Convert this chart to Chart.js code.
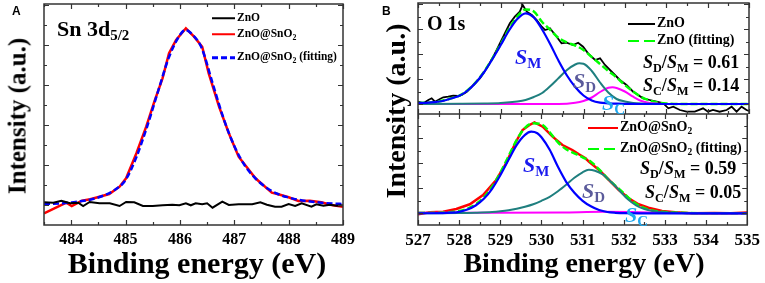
<!DOCTYPE html>
<html>
<head>
<meta charset="utf-8">
<script src="https://cdn.jsdelivr.net/npm/chart.js@4.4.1/dist/chart.umd.min.js"></script>
<style>
  body { margin: 0; background: #fff; }
  #wrap { position: relative; width: 765px; height: 283px; overflow: hidden;
          font-family: 'Liberation Serif', 'Times New Roman', serif; font-weight: bold; color: #000; }
  canvas { position: absolute; }
  .lab { position: absolute; white-space: nowrap; line-height: 1; transform: translateY(-50%); }
  .lab sub { font-size: 0.68em; vertical-align: -0.3em; line-height: 0; }
  .rot { position: absolute; white-space: nowrap; line-height: 1; transform: translate(-50%, -50%) rotate(-90deg); }
  .ctr { position: absolute; white-space: nowrap; line-height: 1; transform: translate(-50%, -50%); }
  .sw { display: inline-block; vertical-align: middle; margin-right: 2px; }
  .S { font-style: italic; }
  .pl { font-family: 'Liberation Sans', Arial, sans-serif; font-size: 12px; }
</style>
</head>
<body>
<div id="wrap">
  <canvas id="cA" width="360" height="255" style="left:0;top:0"></canvas>
  <canvas id="cB1" width="385" height="114" style="left:380px;top:0"></canvas>
  <canvas id="cB2" width="385" height="141" style="left:380px;top:114px"></canvas>

  <div class="lab pl" style="left:12px;top:11px">A</div>
  <div class="lab pl" style="left:382px;top:11px">B</div>

  <div class="rot" style="left:17px;top:116px;font-size:25px">Intensity (a.u.)</div>
  <div class="rot" style="left:396px;top:111px;font-size:28px">Intensity (a.u.)</div>
  <div class="ctr" style="left:197px;top:263px;font-size:30px">Binding energy (eV)</div>
  <div class="ctr" style="left:584px;top:263px;font-size:28px">Binding energy (eV)</div>

  <div class="lab" style="left:57px;top:29px;font-size:22px">Sn 3d<sub>5/2</sub></div>
  <div class="lab" style="left:427px;top:23px;font-size:20px">O 1s</div>

  <div class="lab" style="left:212px;top:18px;font-size:11.5px"><span class="sw" style="width:23px;border-top:2.5px solid #000"></span>ZnO</div>
  <div class="lab" style="left:212px;top:34px;font-size:11.5px"><span class="sw" style="width:23px;border-top:2.5px solid #f00"></span>ZnO@SnO<sub>2</sub></div>
  <div class="lab" style="left:212px;top:57px;font-size:11.5px"><span class="sw" style="width:23px;height:2.5px;background:repeating-linear-gradient(90deg,#00f 0 6px,transparent 6px 9px)"></span>ZnO@SnO<sub>2</sub> (fitting)</div>

  <div class="lab" style="left:628px;top:23px;font-size:14px"><span class="sw" style="width:27px;border-top:2.5px solid #000"></span>ZnO</div>
  <div class="lab" style="left:628px;top:40px;font-size:14px"><span class="sw" style="width:27px;height:2.5px;background:repeating-linear-gradient(90deg,#0f0 0 11px,transparent 11px 16px)"></span>ZnO (fitting)</div>
  <div class="lab" style="left:643px;top:62px;font-size:18px"><span class="S">S</span><sub>D</sub>/<span class="S">S</span><sub>M</sub> = 0.61</div>
  <div class="lab" style="left:643px;top:85px;font-size:18px"><span class="S">S</span><sub>C</sub>/<span class="S">S</span><sub>M</sub> = 0.14</div>

  <div class="lab" style="left:588px;top:127px;font-size:14px"><span class="sw" style="width:30px;border-top:2.5px solid #f00"></span>ZnO@SnO<sub>2</sub></div>
  <div class="lab" style="left:588px;top:148px;font-size:14px"><span class="sw" style="width:30px;height:2.5px;background:repeating-linear-gradient(90deg,#0f0 0 11px,transparent 11px 16px)"></span>ZnO@SnO<sub>2</sub> (fitting)</div>
  <div class="lab" style="left:640px;top:168px;font-size:18px"><span class="S">S</span><sub>D</sub>/<span class="S">S</span><sub>M</sub> = 0.59</div>
  <div class="lab" style="left:645px;top:192px;font-size:18px"><span class="S">S</span><sub>C</sub>/<span class="S">S</span><sub>M</sub> = 0.05</div>

  <div class="lab" style="left:515px;top:57px;font-size:22px;color:#1a1aee"><span class="S">S</span><sub>M</sub></div>
  <div class="lab" style="left:573px;top:81px;font-size:22px;color:#5b5b9b"><span class="S">S</span><sub>D</sub></div>
  <div class="lab" style="left:602px;top:103px;font-size:22px;color:#1ea8ef"><span class="S">S</span><sub>C</sub></div>
  <div class="lab" style="left:523px;top:165px;font-size:22px;color:#1a1aee"><span class="S">S</span><sub>M</sub></div>
  <div class="lab" style="left:582px;top:191px;font-size:22px;color:#5b5b9b"><span class="S">S</span><sub>D</sub></div>
  <div class="lab" style="left:625px;top:215px;font-size:22px;color:#1ea8ef"><span class="S">S</span><sub>C</sub></div>
</div>

<script>
// panel A: Sn 3d5/2
var snTicks = [484, 485, 486, 487, 488, 489];
var snMinor = [483.5, 484.5, 485.5, 486.5, 487.5, 488.5];
var snYMajor = [20, 60, 100, 140, 180, 220];
var snYMinor = [40, 80, 120, 160, 200];

var snZnO_E = [483.5,483.67,483.82,483.98,484.13,484.22,484.34,484.52,484.71,484.89,485.01,485.16,485.32,485.5,485.68,485.86,485.99,486.11,486.2,486.29,486.41,486.5,486.6,486.78,486.9,487.08,487.33,487.48,487.6,487.75,487.87,488.0,488.12,488.24,488.42,488.51,488.64,488.76,488.88,489.0];
var snZnO_I = [22.7,22.3,24.3,21.7,22.3,19,23,21.7,21.7,19,23,22.7,19,19,19.7,20.3,19.7,21.7,19.7,21.7,20.7,21.7,17.3,23.3,20,20.7,20.7,22.7,20.3,18.3,18.3,21,19,21.7,18.3,20.7,19.3,20.3,19.3,19.7];

var snSn_E = [483.5,483.91,484.01,484.2,484.35,484.52,484.7,484.89,485.01,485.2,485.38,485.53,485.68,485.8,485.93,486.11,486.26,486.41,486.53,486.72,486.9,487.08,487.39,487.69,487.81,488.0,488.18,488.39,488.6,488.79,489.0];
var snSn_I = [11.7,22.3,19,24.3,25.7,28.3,31,38.3,46.7,71.7,98.3,123.3,146.7,171.7,185,196.7,188.3,178.3,151.7,118.3,91.7,68.3,46.7,32.3,30.7,27.7,24,24.3,22.7,20,18.3];

var snFit_E = [483.5,483.8,484.0,484.2,484.4,484.6,484.8,485.0,485.2,485.4,485.6,485.8,486.0,486.1,486.2,486.4,486.6,486.8,487.0,487.2,487.4,487.6,487.8,488.0,488.2,488.4,488.6,488.8,489.0];
var snFit_I = [21,21.5,22.5,24,26,29.5,35,45,68,99,134,168,190,195,192,177,142,107,79,59,46,37,31,27.5,25,23.5,22.3,21.5,21];

// panel B: O 1s
var oTicks = [527, 528, 529, 530, 531, 532, 533, 534, 535];
var oMinor = [527.5, 528.5, 529.5, 530.5, 531.5, 532.5, 533.5, 534.5];
var oYMajor = [0, 25, 50, 75, 100];
var oYMinor = [12.5, 37.5, 62.5, 87.5];

// ZnO (upper)
var znoData_E = [527.0,527.13,527.25,527.33,527.41,527.53,527.61,527.73,527.85,527.97,528.06,528.18,528.34,528.5,528.66,528.82,528.94,529.02,529.14,529.22,529.34,529.46,529.53,529.63,529.75,529.87,529.99,530.07,530.19,530.35,530.47,530.59,530.75,530.87,530.99,531.11,531.28,531.4,531.52,531.64,531.76,531.88,532.04,532.2,532.32,532.44,532.6,532.77,532.93,533.05,533.17,533.33,533.49,533.69,533.89,534.01,534.13,534.29,534.46,534.58,534.7,534.82,534.94,535.0];
var znoData_I = [2.3,0.7,4,5.7,2.3,5,6.7,7.3,8.3,8,9,12.3,19,25.7,35.7,47.3,57.3,64,74,80.7,87.3,92.3,99,92.3,89,84,77.3,74,75.7,67.3,60.7,61.3,59,61.3,57.3,50.7,44,45.7,39,34,29,24,19,12.3,9,5.7,4,2.3,0.7,-4.3,-2.7,-6,-7.7,-7.7,-4.3,-7.7,-6,-7.7,-6,-2.7,-7.7,-2.7,-6,-7];

var znoFit_E = [527,527.4,527.8,528,528.2,528.4,528.6,528.8,529,529.2,529.4,529.6,529.8,530,530.2,530.4,530.6,530.8,531,531.2,531.4,531.6,531.8,532,532.2,532.4,532.6,532.8,533,533.4,535];
var znoFit_I = [1,1.8,5.7,8.4,13.8,21.8,32.5,45.7,60,75,87.5,94.5,92.5,82,74,66,61.5,58.5,54,47,40,33,26.5,19,12.5,7,3.5,1.5,0.5,0,0];

var znoSM_E = [527,527.2,527.4,527.6,527.8,528,528.2,528.4,528.6,528.8,529,529.2,529.4,529.6,529.8,530,530.2,530.4,530.6,530.8,531,531.2,531.4,531.6,531.8,532,532.4,535];
var znoSM_I = [1,1.2,1.8,3,5.5,8.2,13.5,21.5,32,45,59,73.5,85,90.7,86.5,74.5,59.5,43,28.5,17,8.5,3.5,1.3,0.7,0.3,0.1,0,0];

var znoSD_E = [527,528,528.6,529,529.4,529.6,529.8,530,530.2,530.4,530.6,530.8,530.9,531,531.2,531.4,531.6,531.8,532,532.2,532.4,532.8,533.2,535];
var znoSD_I = [0,0.2,0.5,1,2.5,4,7,11,18,26,34,39.5,40.7,40.3,33,21.5,11.5,5,2.5,1,0.4,0.1,0,0];

var znoSC_E = [527,530.4,530.8,531,531.2,531.4,531.6,531.7,531.8,532,532.2,532.4,532.6,532.8,533,535];
var znoSC_I = [0,0,1.2,3,6.5,12,16.2,16.7,16,12.5,7.3,3,1,0.3,0,0];

// ZnO@SnO2 (lower)
var zsData_E = [527,527.29,527.61,527.93,528.26,528.58,528.9,529.14,529.38,529.54,529.71,529.83,530.03,530.27,530.51,530.75,530.91,531.07,531.15,531.4,531.64,531.88,532.12,532.36,532.6,532.93,533.25,533.65,534.2,534.6,535];
var zsData_I = [-1,1,1.6,4.3,9,18.3,33.3,50,71.6,83.3,88.3,91,86.6,76.6,68.3,63.3,59,55,51.6,43.3,33.3,23.3,15,9,5.6,2.3,1,0,0.3,0,0.8];

var zsFit_E = [527,527.6,528,528.2,528.4,528.6,528.8,529,529.2,529.4,529.6,529.8,530,530.2,530.4,530.6,530.8,531,531.2,531.4,531.6,531.8,532,532.2,532.4,532.6,532.8,533,533.4,534,535];
var zsFit_I = [0.5,0.7,2.2,4.5,8.9,16,26.5,40.5,57,73.5,85.5,90,89,81,71,64,60,56,51.5,44,35,27.5,20,12.5,7,3.8,2,1.2,0.5,0,-0.3];

var zsSM_E = [527,527.6,527.8,528,528.2,528.4,528.6,528.8,529,529.2,529.4,529.6,529.75,529.9,530,530.2,530.4,530.6,530.8,531,531.2,531.4,531.6,531.8,532,532.4,535];
var zsSM_I = [0,0.2,0.6,1.5,3.8,7.8,14.5,24.5,38,53.5,68.5,78.5,81.6,80,76,63.5,46.5,31.5,20.5,12.5,7,3.3,1.3,0.5,0.1,0,0];

var zsSD_E = [527,528,528.4,528.8,529,529.2,529.4,529.6,529.8,530,530.2,530.4,530.6,530.8,531,531.15,531.3,531.5,531.7,531.9,532.1,532.3,532.5,532.7,533,533.4,534,535];
var zsSD_I = [0,0.2,0.6,1.3,2,3,4.5,6.5,9,12.5,16.5,22,28.5,35.5,41,43.5,42.5,38.5,31,22.5,14,8,4.3,2.3,1,0.3,0,0];

var zsSC_E = [527,529,530.5,531.5,532.2,533,535];
var zsSC_I = [0.5,0.5,0.8,1.5,1.3,0.4,-0.3];

// frame with inward ticks on all four sides
var frameTicks = {
  id: 'frameTicks',
  afterDatasetsDraw: function (chart, args, o) {
    var ctx = chart.ctx, a = chart.chartArea, sx = chart.scales.x, sy = chart.scales.y;
    ctx.save();
    ctx.strokeStyle = '#333';
    ctx.lineWidth = 1.2;
    ctx.beginPath();
    function tickX(vals, len) {
      vals.forEach(function (v) {
        var x = Math.round(sx.getPixelForValue(v)) + 0.5;
        ctx.moveTo(x, a.bottom); ctx.lineTo(x, a.bottom - len);
        ctx.moveTo(x, a.top); ctx.lineTo(x, a.top + len);
      });
    }
    function tickY(vals, len) {
      vals.forEach(function (v) {
        var y = Math.round(sy.getPixelForValue(v)) + 0.5;
        ctx.moveTo(a.left, y); ctx.lineTo(a.left + len, y);
        ctx.moveTo(a.right, y); ctx.lineTo(a.right - len, y);
      });
    }
    tickX(o.xMajor, 5); tickX(o.xMinor, 3);
    tickY(o.yMajor, 5); tickY(o.yMinor, 3);
    ctx.stroke();
    ctx.lineWidth = 1.5;
    ctx.strokeRect(a.left, a.top, a.right - a.left, a.bottom - a.top);
    ctx.restore();
  }
};

function series(xs, ys, color, width, dash, order, smooth) {
  return {
    data: xs.map(function (x, i) { return { x: x, y: ys[i] }; }),
    borderColor: color,
    borderWidth: width,
    borderDash: dash || [],
    pointRadius: 0,
    fill: false,
    order: order,
    tension: 0,
    cubicInterpolationMode: smooth ? 'monotone' : 'default'
  };
}

function makeChart(id, datasets, xr, yr, xLabels, fontSize, showX, pad, tk) {
  return new Chart(document.getElementById(id), {
    type: 'line',
    data: { datasets: datasets },
    options: {
      responsive: false,
      animation: false,
      devicePixelRatio: 1,
      layout: { padding: pad },
      scales: {
        x: {
          type: 'linear', min: xr[0], max: xr[1], display: showX,
          grid: { display: false, drawTicks: false },
          border: { display: false },
          afterBuildTicks: function (s) { s.ticks = xLabels.map(function (v) { return { value: v }; }); },
          afterFit: function (s) { s.height = showX ? 30 : 0; },
          ticks: {
            color: '#000', padding: 5, autoSkip: false, maxRotation: 0,
            font: { family: "'Liberation Serif'", weight: 'bold', size: fontSize },
            callback: function (v) { return String(v); }
          }
        },
        y: { type: 'linear', min: yr[0], max: yr[1], display: false }
      },
      plugins: {
        legend: { display: false },
        tooltip: { enabled: false },
        frameTicks: tk
      }
    },
    plugins: [frameTicks]
  });
}

makeChart('cA', [
  series(snZnO_E, snZnO_I, '#000', 2, null, 1, false),
  series(snFit_E, snFit_I, '#0000ff', 2.5, [6, 3], 2, true),
  series(snSn_E, snSn_I, '#ff0000', 2.5, null, 3, false)
], [483.5, 489], [0, 221], snTicks, 16, true,
  { left: 44, top: 4, right: 15, bottom: 0 },
  { xMajor: snTicks, xMinor: snMinor, yMajor: snYMajor, yMinor: snYMinor });

makeChart('cB1', [
  series(znoSM_E, znoSM_I, '#0000ff', 2.2, null, 1, true),
  series(znoSD_E, znoSD_I, '#1f7f7f', 2, null, 2, true),
  series(znoSC_E, znoSC_I, '#ff00ff', 2, null, 3, true),
  series(znoFit_E, znoFit_I, '#00ff00', 2.5, [7, 3], 4, true),
  series(znoData_E, znoData_I, '#000', 1.8, null, 5, false)
], [527, 535], [-10, 101], oTicks, 17, false,
  { left: 38, top: 3, right: 16, bottom: 0 },
  { xMajor: oTicks, xMinor: oMinor, yMajor: oYMajor, yMinor: oYMinor });

makeChart('cB2', [
  series(zsSM_E, zsSM_I, '#0000ff', 2.2, null, 1, true),
  series(zsSD_E, zsSD_I, '#1f7f7f', 2, null, 2, true),
  series(zsSC_E, zsSC_I, '#ff00ff', 2, null, 3, true),
  series(zsFit_E, zsFit_I, '#00ff00', 2.5, [7, 3], 4, true),
  series(zsData_E, zsData_I, '#ff0000', 2.5, null, 5, false)
], [527, 535], [-11.7, 99.3], oTicks, 17, true,
  { left: 38, top: 0, right: 16, bottom: 0 },
  { xMajor: oTicks, xMinor: oMinor, yMajor: oYMajor, yMinor: oYMinor });
</script>
</body>
</html>
